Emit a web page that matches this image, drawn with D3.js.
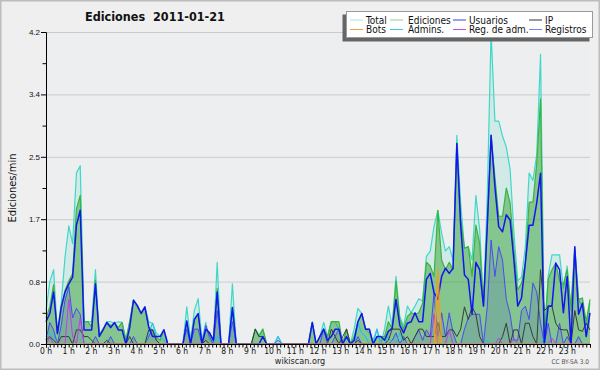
<!DOCTYPE html>
<html>
<head>
<meta charset="utf-8">
<script src="https://cdn.jsdelivr.net/npm/d3@7"></script>
<style>
  body { margin: 0; background: #fff; }
  svg { display: block; font-family: "DejaVu Sans Condensed", "DejaVu Sans", sans-serif; }
</style>
</head>
<body>
<div class="chart"></div>
<script>
// 10-minute samples over the day, 144 values per series
const hours = d3.range(0, 24);
const yTicks = [0, 0.84, 1.68, 2.52, 3.36, 4.2];

const total = [
  0.45, 0.84, 1.0, 0.15, 0.55, 1.17, 1.59, 1.35, 2.3, 2.4, 0.3, 0.3,
  0.3, 1.0, 0.12, 0.2, 0.3, 0.3, 0.28, 0.3, 0.29, 0.05, 0.3, 0.59,
  0.5, 0.42, 0.5, 0.3, 0.28, 0.15, 0.1, 0.19, 0, 0, 0, 0,
  0, 0.5, 0.05, 0.45, 0.61, 0.05, 0.29, 0.05, 0, 1.1, 0, 0,
  0, 0.81, 0, 0, 0, 0, 0, 0.2, 0.12, 0.2, 0, 0,
  0, 0.1, 0, 0, 0, 0, 0, 0, 0, 0, 0.29, 0,
  0.1, 0.29, 0.1, 0.3, 0.3, 0.2, 0, 0.2, 0, 0.2, 0.48, 0.41,
  0.2, 0.15, 0.05, 0.2, 0, 0.2, 0.51, 0.24, 0.91, 0.37, 0.24, 0.51,
  0.42, 0.51, 0.61, 0.58, 1.18, 1.25, 1.58, 1.8, 1.49, 1.25, 1.31, 1.13,
  2.81, 1.9, 1.29, 1.31, 1.13, 2.0, 1.54, 0.55, 2.0, 4.2, 3.0, 3.0,
  2.8, 2.65, 2.35, 1.5, 0.85, 0.9, 1.3, 2.3, 2.2, 2.55, 3.9, 0.08,
  0.91, 1.2, 1.2, 1.2, 0.75, 1.05, 0.45, 1.31, 0.6, 0.5, 0.25, 0.55
];

const ediciones = [
  0.35, 0.5, 0.8, 0.14, 0.45, 0.72, 0.85, 0.95, 1.82, 2.0, 0.3, 0.3,
  0.23, 0.86, 0.12, 0.2, 0.29, 0.25, 0.28, 0.22, 0.29, 0.05, 0.3, 0.59,
  0.5, 0.42, 0.49, 0.23, 0.19, 0.1, 0.05, 0.19, 0, 0, 0, 0,
  0, 0.31, 0, 0.33, 0.41, 0, 0.2, 0.15, 0.05, 0.75, 0, 0,
  0, 0.49, 0, 0, 0, 0, 0, 0.2, 0.1, 0.2, 0, 0,
  0, 0, 0, 0, 0, 0, 0, 0, 0, 0, 0.29, 0,
  0.1, 0.2, 0.1, 0.3, 0.3, 0.3, 0, 0.2, 0, 0.1, 0.3, 0.41,
  0.2, 0.2, 0, 0.1, 0.1, 0.1, 0.3, 0.21, 0.85, 0.33, 0.2, 0.37,
  0.42, 0.4, 0.42, 0.55, 1.1, 1.05, 0.91, 1.8, 1.13, 1.0, 1.1, 1.0,
  2.7, 1.7, 1.29, 1.31, 0.91, 1.6, 1.35, 0.51, 1.6, 2.81, 2.25, 1.72,
  1.72, 2.1, 1.9, 1.27, 0.73, 0.82, 1.09, 1.91, 1.91, 2.43, 3.3, 0.05,
  0.87, 1.0, 1.09, 0.85, 0.8, 1.0, 0.5, 1.27, 0.6, 0.62, 0.3, 0.6
];

const usuarios = [
  0.3, 0.41, 0.7, 0.14, 0.5, 0.7, 0.81, 0.9, 1.6, 1.8, 0.19, 0.19,
  0.19, 0.81, 0.1, 0.19, 0.29, 0.22, 0.29, 0.19, 0.19, 0, 0.22, 0.59,
  0.52, 0.41, 0.5, 0.23, 0.1, 0.1, 0.1, 0.19, 0, 0, 0, 0,
  0, 0.31, 0, 0.33, 0.41, 0, 0.2, 0.15, 0.05, 0.7, 0, 0,
  0, 0.49, 0, 0, 0, 0, 0, 0, 0, 0.1, 0, 0,
  0, 0, 0, 0, 0, 0, 0, 0, 0, 0, 0.29, 0,
  0.1, 0.2, 0.05, 0.1, 0.2, 0.2, 0, 0.1, 0, 0.05, 0.3, 0.41,
  0.2, 0.2, 0, 0.1, 0.1, 0.05, 0.17, 0.21, 0.6, 0.25, 0.15, 0.28,
  0.3, 0.42, 0.3, 0.3, 0.87, 0.95, 0.69, 0.6, 0.91, 1.02, 0.95, 1.02,
  2.7, 1.6, 0.93, 0.87, 0.4, 1.1, 1.0, 0.51, 1.6, 2.81, 2.12, 1.58,
  1.51, 1.74, 1.67, 1.13, 0.51, 0.62, 1.09, 1.6, 1.6, 1.9, 2.3, 0,
  0.51, 0.51, 1.09, 1.0, 0.42, 0.91, 0, 1.31, 0.4, 0.55, 0.1, 0.42
];

const ip = [
  0.05, 0.1, 0.05, 0, 0.1, 0.1, 0.1, 0, 0.19, 0.19, 0.1, 0.1,
  0.05, 0, 0, 0, 0.05, 0, 0, 0, 0, 0, 0.1, 0,
  0, 0, 0, 0.19, 0.19, 0.05, 0, 0, 0, 0, 0, 0,
  0, 0, 0, 0, 0, 0, 0.05, 0, 0, 0, 0, 0,
  0, 0, 0, 0, 0, 0, 0, 0.2, 0.1, 0.1, 0, 0,
  0, 0, 0, 0, 0, 0, 0, 0, 0, 0, 0, 0,
  0, 0, 0, 0.2, 0.1, 0, 0.1, 0.2, 0, 0, 0.05, 0,
  0, 0, 0, 0, 0, 0, 0.05, 0.2, 0.2, 0.2, 0.05, 0.1,
  0, 0.1, 0.2, 0.2, 0.1, 0.1, 0.1, 0.29, 0.1, 0.1, 0.19, 0.19,
  0.1, 0.2, 0.5, 0.33, 0.5, 0.4, 0.1, 0, 0, 0, 0, 0,
  0.1, 0.28, 0, 0.19, 0.19, 0, 0.28, 0.28, 0.1, 0, 1.0, 0.45,
  0.5, 0.51, 0.28, 0.2, 0.19, 0.19, 0, 0.45, 0.19, 0.17, 0.28, 0.19
];

const registros = [
  0.05, 0.29, 0.19, 0, 0.25, 0.59, 0.77, 0.35, 0.48, 0.4, 0, 0,
  0, 0.1, 0, 0, 0, 0.1, 0, 0, 0, 0, 0, 0.1,
  0, 0, 0, 0.1, 0.2, 0.05, 0, 0, 0, 0, 0, 0,
  0, 0.2, 0, 0.2, 0.2, 0, 0.25, 0.1, 0, 0.45, 0, 0,
  0, 0.3, 0, 0, 0, 0, 0, 0, 0, 0, 0, 0,
  0, 0.05, 0, 0, 0, 0, 0, 0, 0, 0, 0, 0,
  0, 0.2, 0, 0, 0.1, 0.2, 0, 0, 0, 0, 0.1, 0,
  0, 0, 0, 0, 0, 0, 0, 0.05, 0.15, 0, 0.1, 0,
  0, 0.1, 0.19, 0.05, 0.19, 0.1, 0.69, 0.1, 0.42, 0.1, 0.42, 0.15,
  0, 0, 0.2, 0.35, 0.4, 0.4, 0.4, 0, 0.5, 1.4, 0.91, 1.31,
  1.13, 0.6, 0.4, 0.05, 0.05, 0.45, 0.51, 0.33, 0.82, 0.7, 0.28, 0,
  0.28, 0, 0, 0.28, 0, 0.1, 0, 0, 0.1, 0, 0, 0
];

const admins = [
  0.1, 0.15, 0.1, 0, 0, 0, 0, 0, 0, 0, 0, 0,
  0, 0, 0, 0, 0, 0, 0, 0, 0, 0, 0, 0,
  0, 0, 0, 0.15, 0.28, 0.1, 0.1, 0.05, 0, 0, 0, 0,
  0, 0, 0, 0, 0, 0, 0, 0, 0, 0.1, 0, 0,
  0, 0.45, 0, 0, 0, 0, 0, 0, 0, 0, 0, 0,
  0, 0.1, 0, 0, 0, 0, 0, 0, 0, 0, 0, 0,
  0, 0, 0, 0, 0, 0, 0, 0, 0, 0, 0.28, 0.15,
  0.1, 0, 0, 0.2, 0, 0, 0.1, 0, 0, 0.15, 0, 0,
  0, 0, 0, 0, 0, 0, 0, 0, 0, 0, 0, 0,
  0, 0, 0, 0, 0, 0, 0, 0, 0.05, 0, 0, 0,
  0, 0, 0, 0, 0, 0, 0, 0, 0, 0, 0, 0.08,
  0, 0, 0, 0, 0, 0, 0, 0, 0, 0, 0, 0
];

const regAdm = [
  0, 0.09, 0, 0, 0, 0, 0.6, 0.1, 0, 0.35, 0, 0,
  0, 0, 0, 0, 0, 0, 0, 0, 0, 0, 0, 0,
  0, 0, 0, 0, 0, 0, 0, 0, 0, 0, 0, 0,
  0, 0, 0, 0, 0, 0, 0, 0, 0, 0, 0, 0,
  0, 0, 0, 0, 0, 0, 0, 0, 0, 0, 0, 0,
  0, 0, 0, 0, 0, 0, 0, 0, 0, 0, 0, 0,
  0, 0, 0, 0, 0, 0, 0, 0, 0, 0, 0, 0,
  0, 0, 0, 0, 0, 0, 0, 0, 0, 0, 0, 0,
  0, 0, 0, 0, 0, 0, 0.4, 0, 0, 0, 0.19, 0,
  0, 0, 0, 0, 0, 0, 0, 0, 0, 0, 0, 0.08,
  0, 0, 0, 0.08, 0, 0, 0, 0, 0, 0, 0, 0,
  0, 0.08, 0, 0, 0, 0, 0, 0, 0, 0, 0, 0
];

const bots = [
  0, 0, 0, 0, 0, 0, 0, 0, 0, 0, 0, 0,
  0, 0, 0, 0, 0, 0, 0, 0, 0, 0, 0, 0,
  0, 0, 0, 0, 0, 0, 0, 0, 0, 0, 0, 0,
  0, 0, 0, 0, 0, 0, 0, 0, 0, 0, 0, 0,
  0, 0, 0, 0, 0, 0, 0, 0, 0, 0, 0, 0,
  0, 0, 0, 0, 0, 0, 0, 0, 0, 0, 0, 0,
  0, 0, 0, 0, 0, 0, 0, 0, 0, 0, 0, 0,
  0, 0, 0, 0, 0, 0, 0, 0, 0, 0, 0, 0,
  0, 0, 0, 0, 0, 0, 0, 1.0, 0, 0, 0, 0,
  0, 0, 0, 0, 0, 0, 0, 0, 0, 0, 0, 0,
  0, 0, 0, 0, 0, 0, 0, 0, 0, 0, 0, 0,
  0, 0, 0, 0, 0, 0, 0, 0, 0, 0, 0, 0
];

const legendRows = [
  ["Total", "Ediciones", "Usuarios", "IP"],
  ["Bots", "Admins.", "Reg. de adm.", "Registros"]
];

const width = 600, height = 370;
const plotLeft = 46, plotRight = 590, plotTop = 32, plotBottom = 344;

const svg = d3.select(".chart").append("svg")
  .attr("width", width)
  .attr("height", height);

// background + frame
svg.append("rect").attr("width", width).attr("height", height).attr("fill", "#efeff0");
svg.append("rect").attr("x", plotLeft).attr("y", plotTop)
  .attr("width", plotRight - plotLeft).attr("height", plotBottom - plotTop).attr("fill", "#eceef0");
svg.append("rect").attr("x", 0.75).attr("y", 0.75)
  .attr("width", width - 1.5).attr("height", height - 1.5)
  .attr("fill", "none").attr("stroke", "#bdbdbd").attr("stroke-width", 1.5);

const x = d3.scaleLinear().domain([0, 24]).range([plotLeft, plotRight]);
const xi = d3.scaleLinear().domain([0, total.length - 1]).range([plotLeft, plotRight]);
const y = d3.scaleLinear().domain([0, 4.2]).range([plotBottom, plotTop]);

// grid
svg.append("g")
  .attr("transform", "translate(" + plotLeft + ",0)")
  .call(d3.axisLeft(y).tickValues(yTicks.slice(1)).tickSize(-(plotRight - plotLeft)).tickFormat(""))
  .call(g => g.select(".domain").remove())
  .call(g => g.selectAll("line").attr("stroke", "#cbcbcb"));

// series
const line = d3.line().x((d, i) => xi(i)).y(d => y(d));
const area = d3.area().x((d, i) => xi(i)).y0(y(0)).y1(d => y(d));

const series = [
  { values: total, stroke: "#3fd8c8", width: 1.2, fill: "rgba(70,215,190,0.16)" },
  { values: ediciones, stroke: "#3cb43c", width: 1.2, fill: "rgba(55,160,55,0.5)" },
  { values: registros, stroke: "#4a4af2", width: 1, fill: "rgba(70,80,210,0.17)" },
  { values: admins, stroke: "#28c0e6", width: 1.1, fill: null },
  { values: ip, stroke: "#3a3a3a", width: 1, fill: null },
  { values: regAdm, stroke: "#c040e0", width: 1, fill: null },
  { values: usuarios, stroke: "#1414f0", width: 1.5, fill: null },
  { values: bots, stroke: "#f0a020", width: 1.2, fill: "rgba(240,160,30,0.5)" }
];

const plot = svg.append("g");
series.forEach(s => {
  if (s.fill) {
    plot.append("path").datum(s.values).attr("d", area).attr("fill", s.fill);
  }
  plot.append("path").datum(s.values).attr("d", line)
    .attr("fill", "none").attr("stroke", s.stroke)
    .attr("stroke-width", s.width).attr("stroke-linejoin", "round");
});

// y axis: major + minor ticks
svg.append("g")
  .attr("transform", "translate(" + plotLeft + ",0)")
  .call(d3.axisLeft(y).tickValues(yTicks).tickSize(5).tickPadding(1).tickFormat(d3.format(".1f")))
  .call(g => g.selectAll("text").attr("font-size", 8).attr("fill", "#111"))
  .call(g => g.select(".domain").attr("stroke", "#000"));

svg.append("g")
  .attr("transform", "translate(" + plotLeft + ",0)")
  .call(d3.axisLeft(y).tickValues(d3.range(0.42, 4.2, 0.84)).tickSize(3.5).tickFormat(""))
  .call(g => g.select(".domain").remove());

// x axis: ticks every 10 min, label each hour
svg.append("g")
  .attr("transform", "translate(0," + plotBottom + ")")
  .call(d3.axisBottom(x).tickValues(d3.range(0, 24 * 6 + 1).map(k => k / 6))
    .tickSize(3.5).tickPadding(1)
    .tickFormat(d => ""))
  .call(g => g.select(".domain").attr("stroke", "#000"));

svg.append("g")
  .selectAll("text")
  .data(hours)
  .join("text")
  .attr("x", d => x(d))
  .attr("y", plotBottom + 10)
  .attr("text-anchor", "middle")
  .attr("font-size", 8.5)
  .attr("fill", "#111")
  .text(d => d + " h");

// titles
svg.append("text")
  .attr("x", 85).attr("y", 21)
  .attr("font-size", 12.5).attr("font-weight", "bold")
  .attr("fill", "#111")
  .style("white-space", "pre")
  .text("Ediciones  2011-01-21");

svg.append("text")
  .attr("transform", "translate(16," + (plotTop + plotBottom) / 2 + ") rotate(-90)")
  .attr("text-anchor", "middle")
  .attr("font-size", 11)
  .attr("fill", "#111")
  .text("Ediciones/min");

svg.append("text")
  .attr("x", 300).attr("y", 364)
  .attr("text-anchor", "middle")
  .attr("font-size", 9)
  .attr("fill", "#222")
  .text("wikiscan.org");

svg.append("text")
  .attr("x", 589).attr("y", 364)
  .attr("text-anchor", "end")
  .attr("font-size", 6.5)
  .attr("fill", "#555")
  .text("CC BY-SA 3.0");

// legend
const legendColors = [
  ["#a6e6dc", "#8fd08f", "#3c3ce6", "#333333"],
  ["#f0a040", "#40c8e0", "#c050e0", "#8080f0"]
];
const colLine = [350, 390, 453, 529];
const colText = [366, 408, 469, 545];
const rowY = [20, 29.5];

const legend = svg.append("g");
legend.append("rect").attr("x", 342.5).attr("y", 14.5).attr("width", 247).attr("height", 27)
  .attr("fill", "#666");
legend.append("rect").attr("x", 346.5).attr("y", 11.5).attr("width", 246).attr("height", 26)
  .attr("fill", "#fff").attr("stroke", "#9a9a9a");

legendRows.forEach((row, r) => {
  row.forEach((name, c) => {
    legend.append("line")
      .attr("x1", colLine[c]).attr("x2", colLine[c] + 13)
      .attr("y1", rowY[r]).attr("y2", rowY[r])
      .attr("stroke", legendColors[r][c]).attr("stroke-width", 1);
    legend.append("text")
      .attr("x", colText[c]).attr("y", rowY[r] + 3.5)
      .attr("font-size", 10).attr("fill", "#111")
      .text(name);
  });
});
</script>
</body>
</html>
